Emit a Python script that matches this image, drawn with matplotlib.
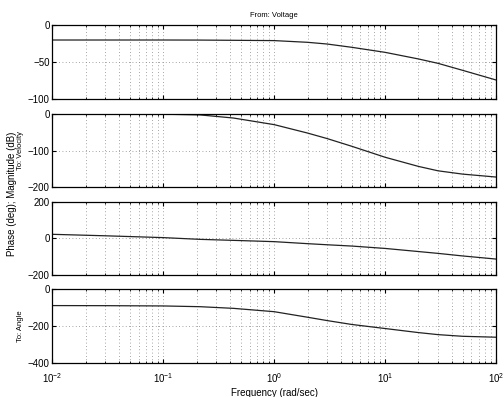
import numpy as np
import matplotlib
matplotlib.use("Agg")
import matplotlib.pyplot as plt

plt.rcParams["font.family"] = ["Liberation Sans", "DejaVu Sans"]

# ----------------------------
# Values
# ----------------------------

freq = [0.01, 0.03, 0.1, 0.215, 0.43, 1, 2, 3, 5, 10, 20, 30, 50, 100]

mag_velocity = [-20.2, -20.2, -20.2, -20.3, -20.6, -21, -23.3, -25.6, -30, -36.8, -45.7, -51.6, -61, -74]
phase_velocity = [0, 0, -0.5, -2.5, -11, -29, -52, -67, -88, -118, -143, -155, -164, -172]
mag_angle = [22, 14, 4, -5.5, -11, -18, -29, -35, -42, -55, -72, -82, -96, -113]
phase_angle = [-88, -88.5, -90, -94, -103, -121, -151, -169, -190, -212, -234, -245, -254, -259]

series = [mag_velocity, phase_velocity, mag_angle, phase_angle]
ylims = [(-100, 0), (-200, 0), (-200, 200), (-400, 0)]
yticks = [[-100, -50, 0], [-200, -100, 0], [-200, 0, 200], [-400, -200, 0]]

# panel extents in pixels from the top of the picture
W, H = 504, 397
left_px, right_px = 52.3, 496
panels_px = [(25, 99.3), (114, 187.3), (201.7, 275), (289.3, 363.3)]

fig = plt.figure(figsize=(W / 100, H / 100), dpi=100)

axes = []
for i, (top, bot) in enumerate(panels_px):
    ax = fig.add_axes([left_px / W, 1 - bot / H, (right_px - left_px) / W, (bot - top) / H])
    ax.semilogx(freq, series[i], color="#222222", lw=0.9)
    ax.set_xlim(1e-2, 1e2)
    ax.set_ylim(*ylims[i])
    ax.set_yticks(yticks[i])
    ax.grid(True, which="major", axis="both", ls=(0, (1, 3)), color="#888888", lw=0.6)
    ax.grid(True, which="minor", axis="x", ls=(0, (1, 3)), color="#888888", lw=0.6)
    ax.tick_params(which="both", direction="in", top=True, right=True, labelsize=7, pad=2)
    ax.tick_params(which="major", length=3)
    ax.tick_params(which="minor", length=1.5)
    for sp in ax.spines.values():
        sp.set_linewidth(0.9)
    if i < 3:
        ax.tick_params(labelbottom=False)
    axes.append(ax)

axes[3].tick_params(axis="x", which="both", pad=6)
axes[0].set_title("From: Voltage", fontsize=5.5, pad=6)
axes[3].set_xlabel("Frequency (rad/sec)", fontsize=7, labelpad=2)

fig.text(20 / W, 1 - 150 / H, "To: Velocity", rotation=90, fontsize=5.5, ha="center", va="center")
fig.text(20 / W, 1 - 326 / H, "To: Angle", rotation=90, fontsize=5.5, ha="center", va="center")
fig.text(12 / W, 1 - 194 / H, "Phase (deg); Magnitude (dB)", rotation=90, fontsize=7,
         ha="center", va="center")
fig.text(0.53, 1.004, "Bode Diagrams", fontsize=7, ha="center", va="baseline")

fig.savefig("out.png", dpi=100)
